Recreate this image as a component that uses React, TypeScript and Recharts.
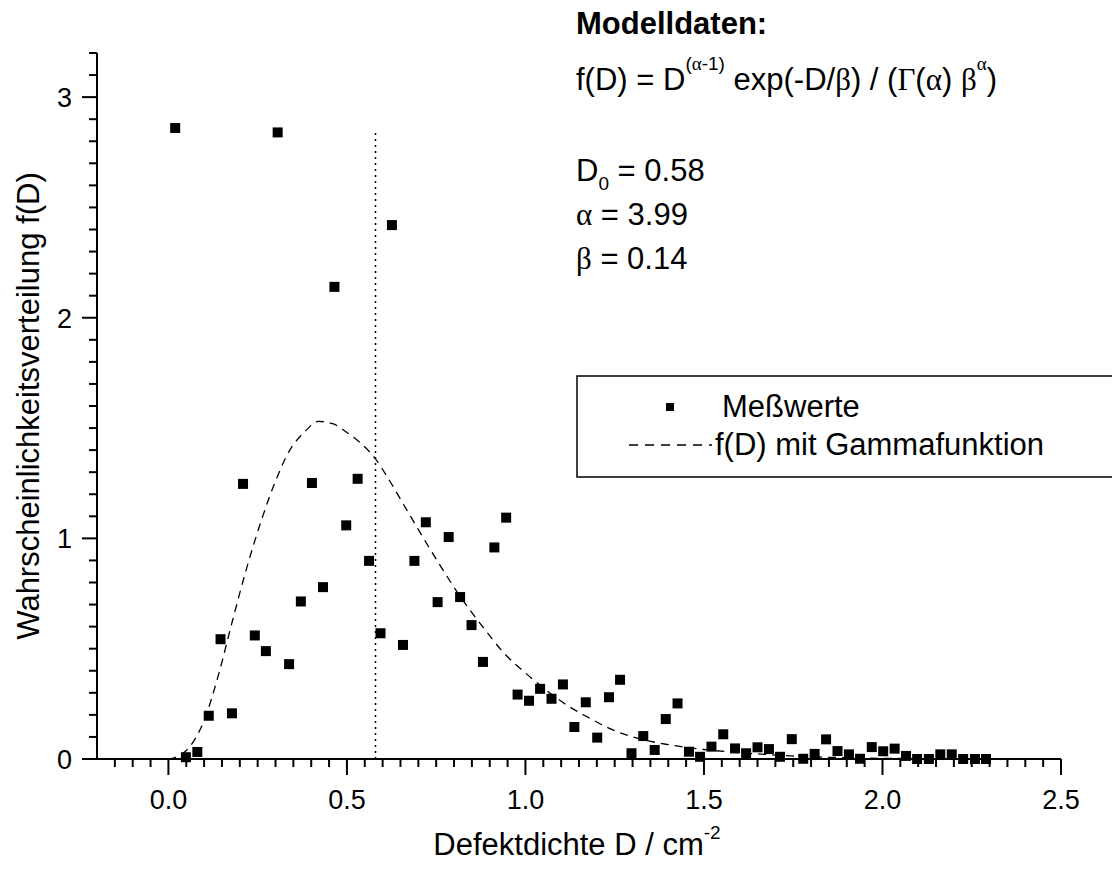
import { ComposedChart, Scatter, Line, XAxis, YAxis, ReferenceLine, Legend, Label } from "recharts"

// Meßwerte: Defektdichte D (cm^-2) and f(D)
const MEAS_D = [
  0.019, 0.049, 0.081, 0.113, 0.146, 0.178, 0.209, 0.242, 0.273, 0.306,
  0.338, 0.371, 0.402, 0.433, 0.465, 0.498, 0.53, 0.562, 0.594, 0.626,
  0.657, 0.689, 0.721, 0.754, 0.785, 0.817, 0.849, 0.881, 0.913, 0.946,
  0.978, 1.01, 1.041, 1.073, 1.105, 1.137, 1.169, 1.201, 1.234, 1.265,
  1.297, 1.33, 1.362, 1.393, 1.426, 1.458, 1.489, 1.521, 1.554, 1.587,
  1.618, 1.65, 1.682, 1.713, 1.746, 1.778, 1.81, 1.842, 1.874, 1.906,
  1.937, 1.97, 2.002, 2.034, 2.066, 2.097, 2.13, 2.162, 2.194, 2.226,
  2.259, 2.29,
]
const MEAS_F = [
  2.86, 0.008, 0.032, 0.196, 0.543, 0.207, 1.247, 0.56, 0.489, 2.84,
  0.43, 0.714, 1.251, 0.779, 2.14, 1.059, 1.27, 0.898, 0.57, 2.42,
  0.517, 0.898, 1.073, 0.711, 1.006, 0.734, 0.607, 0.44, 0.959, 1.094,
  0.292, 0.264, 0.318, 0.273, 0.338, 0.145, 0.257, 0.097, 0.28, 0.359,
  0.026, 0.104, 0.041, 0.181, 0.252, 0.033, 0.01, 0.056, 0.112, 0.048,
  0.026, 0.053, 0.045, 0.01, 0.09, 0.001, 0.023, 0.089, 0.036, 0.021,
  0.001, 0.054, 0.035, 0.047, 0.014, 0, 0, 0.021, 0.021, 0,
  0, 0,
]

// f(D) mit Gammafunktion, sampled off the dashed curve
const CURVE_D = [
  0, 0.02, 0.06, 0.1, 0.14, 0.18, 0.22, 0.26, 0.3, 0.34, 0.38, 0.42, 0.46,
  0.5, 0.54, 0.58, 0.62, 0.66, 0.7, 0.76, 0.82, 0.88, 0.94, 1.0, 1.06, 1.12,
  1.18, 1.24, 1.3, 1.4, 1.5, 1.6, 1.7, 1.8, 1.9, 2.0, 2.1, 2.2, 2.3,
]
const CURVE_F = [
  0, 0.008, 0.056, 0.175, 0.38, 0.63, 0.87, 1.08, 1.26, 1.4, 1.48, 1.53, 1.52,
  1.48, 1.43, 1.36, 1.26, 1.15, 1.04, 0.88, 0.73, 0.6, 0.48, 0.39, 0.31, 0.24,
  0.185, 0.135, 0.1, 0.065, 0.043, 0.029, 0.018, 0.01, 0.006, 0.003, 0.002, 0.001, 0,
]

const X_MAJOR = [0, 0.5, 1, 1.5, 2, 2.5]
const Y_MAJOR = [0, 1, 2, 3]

const D0 = 0.58
const D0_LINE_TOP = 2.84

const FONT = '"Liberation Sans", Arial, sans-serif'
const GREEK = '"Liberation Serif", "DejaVu Serif", serif'
const TICK_FS = 27
const TEXT_FS = 31
const SUP_FS = 19

const measured = MEAS_D.map((x, i) => ({ x, y: MEAS_F[i] }))
const curve = CURVE_D.map((x, i) => ({ x, y: CURVE_F[i] }))

// minor ticks: every 0.05 on x, every 0.1 on y
const xTicks = Array.from({ length: 54 }, (_, i) => Math.round((-0.15 + i * 0.05) * 100) / 100)
const yTicks = Array.from({ length: 33 }, (_, i) => i / 10)

const isMajor = (list: number[], v: number) => list.some((m) => Math.abs(m - v) < 1e-6)

function XTick({ x, y, payload }: any) {
  const major = isMajor(X_MAJOR, payload.value)
  return (
    <g>
      <line x1={x} x2={x} y1={y} y2={y + (major ? 16 : 8)} stroke="#000" strokeWidth={2} />
      {major && (
        <text x={x} y={y + 50} textAnchor="middle" fontSize={TICK_FS} fontFamily={FONT} fill="#000">
          {payload.value.toFixed(1)}
        </text>
      )}
    </g>
  )
}

function YTick({ x, y, payload }: any) {
  const major = isMajor(Y_MAJOR, payload.value)
  return (
    <g>
      <line x1={x - (major ? 15 : 8)} x2={x} y1={y} y2={y} stroke="#000" strokeWidth={2} />
      {major && (
        <text x={x - 25} y={y + 10} textAnchor="end" fontSize={TICK_FS} fontFamily={FONT} fill="#000">
          {payload.value}
        </text>
      )}
    </g>
  )
}

const Square = (p: any) => <rect x={p.cx - 5} y={p.cy - 5} width={10} height={10} fill="#000" />

function LegendBox() {
  return (
    <svg width={536} height={104} style={{ display: "block" }}>
      <rect x={1} y={1} width={560} height={101} fill="#fff" stroke="#000" strokeWidth={1.5} />
      <rect x={90} y={28} width={8} height={8} fill="#000" />
      <text x={146} y={42} fontSize={TEXT_FS} fontFamily={FONT} fill="#000">Meßwerte</text>
      <line x1={53} x2={136} y1={70} y2={70} stroke="#000" strokeWidth={1.3} strokeDasharray="9 7" />
      <text x={139} y={80} fontSize={TEXT_FS} fontFamily={FONT} fill="#000">f(D) mit Gammafunktion</text>
    </svg>
  )
}

function Annotation() {
  const t = { fontSize: TEXT_FS, fontFamily: FONT, fill: "#000" }
  return (
    <svg width={1112} height={872} style={{ position: "absolute", left: 0, top: 0, pointerEvents: "none" }}>
      <text x={576} y={34} {...t} fontWeight="bold">Modelldaten:</text>
      <text x={576} y={90} {...t}>
        f(D) = D
        <tspan dy={-20} fontSize={SUP_FS}>(</tspan>
        <tspan fontSize={SUP_FS} fontFamily={GREEK}>α</tspan>
        <tspan fontSize={SUP_FS}>-1)</tspan>
        <tspan dy={20}> exp(-D/</tspan>
        <tspan fontFamily={GREEK}>β</tspan>
        <tspan>) / (</tspan>
        <tspan fontFamily={GREEK}>Γ</tspan>
        <tspan>(</tspan>
        <tspan fontFamily={GREEK}>α</tspan>
        <tspan>) </tspan>
        <tspan fontFamily={GREEK}>β</tspan>
        <tspan dy={-20} fontSize={SUP_FS} fontFamily={GREEK}>α</tspan>
        <tspan dy={20}>)</tspan>
      </text>
      <text x={576} y={181} {...t}>
        D<tspan dy={9} fontSize={SUP_FS}>0</tspan>
        <tspan dy={-9}> = 0.58</tspan>
      </text>
      <text x={576} y={225} {...t}>
        <tspan fontFamily={GREEK}>α</tspan> = 3.99
      </text>
      <text x={576} y={269} {...t}>
        <tspan fontFamily={GREEK}>β</tspan> = 0.14
      </text>
    </svg>
  )
}

export default function App() {
  return (
    <div style={{ position: "absolute", left: 0, top: 0, width: 1112, height: 872, background: "#fff" }}>
      <ComposedChart width={1112} height={872} margin={{ top: 53, right: 51, bottom: 53, left: 37 }}>
        <XAxis
          type="number"
          dataKey="x"
          domain={[-0.2, 2.5]}
          ticks={xTicks}
          interval={0}
          tickSize={0}
          tickMargin={0}
          tickLine={false}
          tick={<XTick />}
          height={60}
          axisLine={{ stroke: "#000", strokeWidth: 2 }}
        >
          <Label
            content={(p: any) => (
              <text
                x={p.viewBox.x + p.viewBox.width / 2 - 2}
                y={p.viewBox.y + 96}
                textAnchor="middle"
                fontSize={TEXT_FS}
                fontFamily={FONT}
                fill="#000"
              >
                Defektdichte D / cm<tspan dy={-16} fontSize={SUP_FS}>-2</tspan>
              </text>
            )}
          />
        </XAxis>
        <YAxis
          type="number"
          dataKey="y"
          domain={[0, 3.2]}
          ticks={yTicks}
          interval={0}
          tickSize={0}
          tickMargin={0}
          tickLine={false}
          tick={<YTick />}
          width={60}
          axisLine={{ stroke: "#000", strokeWidth: 2 }}
        >
          <Label
            content={(p: any) => {
              const cx = 39
              const cy = p.viewBox.y + p.viewBox.height / 2
              return (
                <text
                  x={cx}
                  y={cy}
                  transform={`rotate(-90, ${cx}, ${cy})`}
                  textAnchor="middle"
                  fontSize={TEXT_FS}
                  fontFamily={FONT}
                  fill="#000"
                >
                  Wahrscheinlichkeitsverteilung f(D)
                </text>
              )
            }}
          />
        </YAxis>
        <ReferenceLine
          segment={[{ x: D0, y: 0 }, { x: D0, y: D0_LINE_TOP }]}
          stroke="#000"
          strokeWidth={1.5}
          strokeDasharray="2 4"
        />
        <Line
          data={curve}
          dataKey="y"
          type="monotone"
          stroke="#000"
          strokeWidth={1.3}
          strokeDasharray="8 6"
          dot={false}
          activeDot={false}
          isAnimationActive={false}
          legendType="none"
        />
        <Scatter data={measured} dataKey="y" shape={<Square />} isAnimationActive={false} />
        <Legend
          layout="vertical"
          align="center"
          verticalAlign="middle"
          wrapperStyle={{ left: 576, top: 375, width: 536 }}
          content={() => <LegendBox />}
        />
      </ComposedChart>
      <Annotation />
    </div>
  )
}
